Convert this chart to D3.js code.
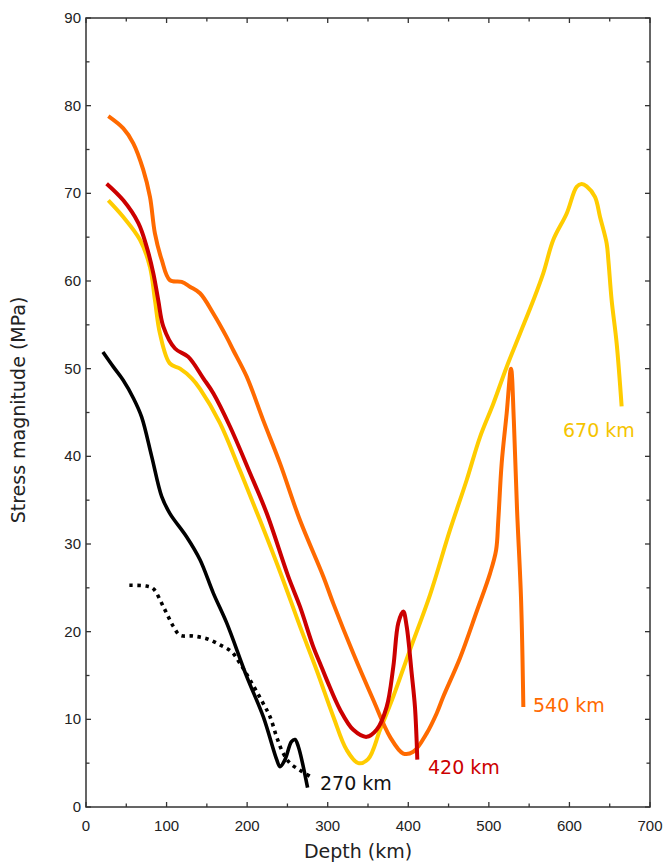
<!DOCTYPE html>
<html><head><meta charset="utf-8">
<script src="https://cdn.jsdelivr.net/npm/d3@7"></script>
<style>body{margin:0;background:#fff}svg{display:block}</style>
</head><body>
<svg id="c" width="664" height="864"></svg>
<script>
// ---- data ----
const xTicks = [0,100,200,300,400,500,600,700];
const yTicks = [0,10,20,30,40,50,60,70,80,90];

const d270x = [21,34,46,59,69,81.5,94,104,125,141.5,158,174.6,199.4,220,236.7,240.8,247,255,259.4,263.5,275];
const d270y = [51.9,50.2,48.7,46.6,44.5,40,35.4,33.5,30.8,28.2,24.4,21,14.9,10.3,5.4,4.6,5.4,7.45,7.7,6.9,2.2];

const dotX = [53.8,75,83.5,96,108.4,116.7,133,149.7,166.3,180.8,191,203.5,220,228.4,236.6,244.9,253.2,265.6,278];
const dotY = [25.3,25.2,24.9,22.85,20.6,19.6,19.5,19.2,18.5,17.7,16.4,14.5,11.8,10.3,8.0,6.1,5.0,4.2,3.5];

const d420x = [25.6,46.3,65,75.3,83.5,89.7,96,110.5,127,145.6,158,178.7,203.5,224.3,251,265.6,282,290.4,298.8,315.3,331.8,348.3,360.7,373.1,381.4,387.6,393.8,398,404.2,408.3,411.2];
const d420y = [71.1,69.2,66.6,63.9,60.9,57.8,54.8,52.3,51.35,48.9,47.2,43.4,38.1,33.5,26.3,22.85,18.3,16.4,14.5,11.1,8.8,8.0,8.8,11.4,16.0,21,22.3,20.6,15.25,11.4,5.4];

const d540x = [27.7,46.3,58.7,71,79.4,85.6,94,104,118.7,129,141.5,158,174.6,182.8,199.4,220,240.8,265.6,294.5,307,331.8,356.6,377.3,393.8,406.2,422.8,435.3,443.5,464.2,484.9,501.3,509,511.7,515.9,522.1,527.5,531,535,540,542.8];
const d540y = [78.8,77.4,75.7,72.7,69.6,65.4,62.4,60.1,59.9,59.35,58.6,56.3,53.6,52.1,49.1,44.1,39.2,32.7,26.3,23.2,17.5,12.2,8.0,6.1,6.3,8.4,10.7,12.6,17,22.3,26.6,29.3,32.7,39.2,44.9,50,44.1,33.9,23.6,11.4];

const d670x = [27.7,46.3,67,79.4,85.6,91.8,104,116.7,131.2,141.5,166.3,191,216,243,265.6,286.3,307,323.6,338,350.4,365,381.4,402,427,451.8,472.5,489,505.5,522.1,538.7,555.2,567.6,580,596.6,609,615.2,621.4,631.7,638,646.2,648.3,652.4,658.6,664.8];
const d670y = [69.2,67.3,64.7,61.6,57.8,54,50.6,50,48.9,47.7,43.8,38.4,32.7,26.3,20.6,15.6,10.3,6.5,5.0,5.5,8.8,12.6,17.9,24.2,31.6,37.3,42.2,46.0,50.2,54.0,57.8,60.9,64.7,67.7,70.75,71.06,70.8,69.6,67.3,64.3,62.4,57.8,52.9,45.7];

const labels = ["270 km","420 km","540 km","670 km"];

// ---- chart ----
const svg = d3.select("#c");
const L=86, R=650, T=18, B=807;
const x = d3.scaleLinear().domain([0,700]).range([L,R]);
const y = d3.scaleLinear().domain([0,90]).range([B,T]);

const zip = (xs,ys)=>xs.map((v,i)=>[v,ys[i]]);
const line = d3.line().x(d=>x(d[0])).y(d=>y(d[1])).curve(d3.curveCatmullRom.alpha(0.5));

const series = [
  {d:zip(d670x,d670y), c:"#ffcc00", w:4},
  {d:zip(d540x,d540y), c:"#ff6a00", w:4},
  {d:zip(d420x,d420y), c:"#cc0000", w:4},
  {d:zip(d270x,d270y), c:"#000000", w:3.6},
];
const g = svg.append("g");
series.forEach(s=>{
  g.append("path").attr("d",line(s.d)).attr("fill","none")
   .attr("stroke",s.c).attr("stroke-width",s.w).attr("stroke-linejoin","round");
});
g.append("path").attr("d",line(zip(dotX,dotY))).attr("fill","none")
  .attr("stroke","#000").attr("stroke-width",3.6).attr("stroke-dasharray","3.5,4.5");

// axes (ticks inward)
const minorX = d3.range(0,701,50), minorY = d3.range(0,91,5);
const axG = svg.append("g").attr("stroke","#333").attr("stroke-width",1.3);
minorX.forEach(v=>{
  const len = v%100===0?5:3.5;
  axG.append("line").attr("x1",x(v)).attr("x2",x(v)).attr("y1",B).attr("y2",B-len);
  axG.append("line").attr("x1",x(v)).attr("x2",x(v)).attr("y1",T).attr("y2",T+len);
});
minorY.forEach(v=>{
  const len = v%10===0?5:3.5;
  axG.append("line").attr("y1",y(v)).attr("y2",y(v)).attr("x1",L).attr("x2",L+len);
  axG.append("line").attr("y1",y(v)).attr("y2",y(v)).attr("x1",R).attr("x2",R-len);
});
svg.append("rect").attr("x",L).attr("y",T).attr("width",R-L).attr("height",B-T)
  .attr("fill","none").attr("stroke","#333").attr("stroke-width",1.5);

const tf = "'Liberation Sans', Arial, sans-serif";
svg.append("g").selectAll("text").data(xTicks).join("text")
  .attr("x",d=>x(d)).attr("y",B+24).attr("text-anchor","middle")
  .attr("font-family",tf).attr("font-size",15).attr("fill","#222").text(d=>d);
svg.append("g").selectAll("text").data(yTicks).join("text")
  .attr("x",L-5).attr("y",d=>y(d)+5).attr("text-anchor","end")
  .attr("font-family",tf).attr("font-size",15).attr("fill","#222").text(d=>d);

const df = "'DejaVu Sans', sans-serif";
svg.append("text").attr("x",358).attr("y",858).attr("text-anchor","middle")
  .attr("font-family",df).attr("font-size",19).attr("fill","#222").text("Depth (km)");
svg.append("text").attr("transform","translate(25,410) rotate(-90)").attr("text-anchor","middle")
  .attr("font-family",df).attr("font-size",19).attr("fill","#222").text("Stress magnitude (MPa)");

// series labels (anchor in data units)
const lab = [
  {t:labels[0], x:290.4, y:1.94, c:"#111"},
  {t:labels[1], x:424.5, y:3.76, c:"#cc0000"},
  {t:labels[2], x:554.8, y:10.8, c:"#ff6a00"},
  {t:labels[3], x:592,   y:42.2, c:"#f5c400"},
];
svg.append("g").selectAll("text").data(lab).join("text")
  .attr("x",d=>x(d.x)).attr("y",d=>y(d.y)).attr("font-family",df).attr("font-size",19)
  .attr("fill",d=>d.c).text(d=>d.t);
</script>
</body></html>
